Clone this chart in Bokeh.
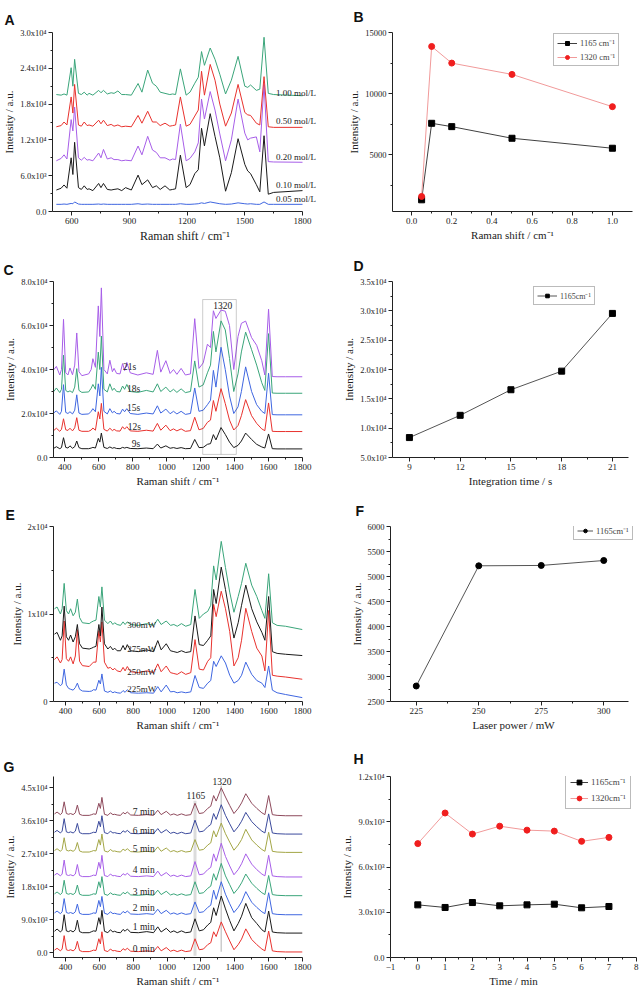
from bokeh.plotting import figure
from bokeh.layouts import column, row
from bokeh.models import (FixedTicker, Legend, LegendItem, Label, BoxAnnotation,
                          PrintfTickFormatter)
from bokeh.embed import file_html
from bokeh.resources import INLINE

SERIF = "Liberation Serif"
SANS = "Liberation Sans"

# ======================= DATA =======================
# Panel A: spectra vs concentration (intensity in thousands)
a_shift = [520, 545, 560, 575, 597, 606, 615, 635, 650, 665, 680,
           690, 710, 740, 752, 765, 785, 805, 820, 840, 860, 880,
           910, 945, 965, 995, 1020, 1040, 1060, 1085, 1110, 1125, 1140,
           1165, 1195, 1215, 1240, 1258, 1275, 1290, 1320, 1345, 1370, 1400,
           1430, 1465, 1500, 1515, 1530, 1560, 1578, 1600, 1622, 1650, 1800]
a_005 = [1.2, 1.2, 1.25, 1.2, 1.35, 1.3, 1.6, 1.25, 1.2, 1.2, 1.2,
         1.2, 1.2, 1.25, 1.2, 1.25, 1.2, 1.2, 1.2, 1.2, 1.2, 1.2,
         1.2, 1.3, 1.2, 1.25, 1.2, 1.2, 1.2, 1.2, 1.2, 1.2, 1.2,
         1.3, 1.2, 1.2, 1.25, 1.3, 1.45, 1.35, 1.6, 1.45, 1.3, 1.2,
         1.25, 1.45, 1.3, 1.25, 1.3, 1.2, 1.2, 1.6, 1.2, 1.2, 1.2]
a_010 = [3.6, 3.9, 4.45, 3.9, 9.0, 6.2, 11.6, 4.0, 3.7, 4.3, 3.7,
         3.8, 3.5, 4.7, 4.0, 4.7, 3.7, 3.6, 3.7, 3.8, 3.5, 4.0,
         3.6, 6.1, 4.5, 5.3, 4.0, 4.3, 3.7, 4.3, 3.6, 3.7, 3.8,
         9.45, 4.0, 4.5, 6.35, 7.0, 13.95, 11.0, 16.4, 12.6, 9.0, 3.4,
         6.5, 12.2, 7.9, 6.8, 6.35, 4.5, 3.3, 12.7, 2.9, 3.2, 3.5]
a_020 = [8.5, 8.9, 9.5, 8.8, 15.4, 13.5, 17.5, 9.0, 8.6, 9.07, 8.6,
         8.7, 8.5, 9.8, 9.0, 10.4, 8.8, 9.0, 8.7, 8.7, 8.5, 8.6,
         8.5, 10.97, 9.5, 12.6, 10.3, 9.9, 9.0, 9.0, 8.6, 8.8, 8.7,
         14.66, 8.5, 8.9, 10.0, 11.5, 18.84, 15.5, 20.1, 17.0, 13.0, 8.5,
         12.0, 18.84, 13.14, 12.0, 12.3, 12.5, 10.0, 21.3, 8.36, 8.3, 8.25]
a_050 = [14.2, 14.4, 15.0, 14.5, 19.2, 16.5, 21.3, 14.5, 14.3, 15.0, 14.4,
         14.5, 14.3, 15.3, 14.7, 15.3, 14.4, 14.6, 14.3, 14.5, 14.2, 14.3,
         14.2, 16.1, 14.8, 16.8, 15.0, 15.0, 14.4, 14.8, 14.3, 14.4, 14.5,
         19.2, 14.3, 14.6, 16.0, 17.0, 23.5, 19.5, 24.65, 22.0, 18.0, 14.3,
         16.5, 21.3, 16.6, 16.2, 16.1, 14.8, 14.5, 22.6, 14.2, 14.1, 14.1]
a_100 = [19.6, 19.5, 19.7, 19.5, 24.1, 21.0, 25.5, 19.8, 19.6, 20.0, 19.5,
         19.8, 19.5, 20.3, 19.9, 20.3, 19.7, 19.9, 19.8, 20.2, 19.6, 19.6,
         19.5, 21.45, 20.0, 23.7, 21.5, 21.0, 20.0, 19.8, 19.6, 19.7, 19.6,
         23.9, 19.5, 20.0, 21.5, 22.5, 26.8, 24.5, 27.4, 25.5, 23.0, 19.7,
         22.0, 26.0, 21.0, 20.8, 21.2, 20.3, 20.5, 29.2, 19.8, 19.6, 19.4]
a_names = ["1.00 mol/L", "0.50 mol/L", "0.20 mol/L", "0.10 mol/L", "0.05 mol/L"]

# Panel B: peak intensity vs concentration
b_conc = [0.05, 0.1, 0.2, 0.5, 1.0]
b_1165 = [1333, 7582, 7310, 6360, 5545]
b_1320 = [1605, 13859, 12500, 11577, 8941]

# Common Raman shift grid for panels C, E, G
shift = [335, 350, 370, 380, 392, 405, 418, 430, 445, 458, 470,
         483, 500, 540, 555, 565, 580, 597, 606, 615, 630, 650,
         665, 680, 690, 705, 725, 740, 752, 765, 785, 830, 880,
         920, 945, 965, 995, 1020, 1040, 1060, 1085, 1110, 1140, 1165,
         1190, 1215, 1240, 1258, 1275, 1290, 1320, 1345, 1370, 1395, 1420,
         1440, 1465, 1500, 1530, 1560, 1578, 1600, 1622, 1650, 1700, 1800]

# Panel C: spectra vs integration time (thousands)
c_9s = [4.2, 4.9, 4.0, 4.5, 9.0, 4.6, 4.3, 5.3, 4.2, 4.9, 7.5,
        4.5, 4.0, 4.0, 4.3, 4.6, 4.3, 8.7, 7.0, 11.1, 4.6, 4.1,
        4.8, 4.2, 4.5, 4.1, 4.0, 4.6, 4.3, 4.6, 4.1, 4.0, 4.3,
        4.0, 6.1, 4.3, 5.3, 4.2, 4.5, 4.1, 4.5, 4.0, 4.1, 8.2,
        4.5, 4.6, 6.0, 6.3, 10.4, 8.0, 13.6, 10.5, 7.0, 4.5, 5.5,
        7.5, 11.1, 8.2, 6.0, 4.8, 4.3, 10.7, 4.0, 3.9, 3.9, 3.9]
c_12s = [12.3, 13.3, 11.9, 12.8, 17.6, 12.6, 12.3, 13.3, 12.1, 13.5, 18.1,
         12.4, 11.9, 11.9, 12.5, 13.4, 12.4, 20.8, 17.5, 24.6, 12.8, 12.0,
         13.3, 12.2, 12.8, 12.1, 12.0, 14.0, 12.9, 14.0, 12.1, 11.9, 12.4,
         12.0, 15.5, 12.4, 14.7, 12.2, 13.0, 12.1, 13.0, 11.9, 12.2, 18.3,
         12.6, 13.2, 16.0, 17.0, 25.9, 21.0, 31.3, 24.5, 17.0, 12.5, 14.5,
         19.0, 26.3, 19.0, 15.5, 13.0, 12.2, 24.8, 11.9, 11.8, 11.8, 11.8]
c_15s = [20.3, 21.2, 19.6, 21.0, 33.1, 20.5, 20.0, 20.8, 19.8, 21.5, 28.5,
         20.2, 19.6, 19.8, 21.0, 22.2, 20.8, 33.5, 28.0, 41.0, 21.0, 19.8,
         22.2, 20.3, 21.0, 20.0, 19.8, 22.0, 20.8, 22.2, 20.0, 19.6, 20.2,
         19.8, 23.5, 20.2, 22.0, 19.9, 21.0, 19.8, 21.0, 19.6, 20.0, 31.6,
         21.0, 21.5, 24.0, 26.0, 39.6, 32.0, 50.1, 40.0, 28.0, 20.0, 23.0,
         30.0, 41.2, 30.0, 24.0, 21.0, 20.0, 38.3, 19.5, 19.4, 19.4, 19.4]
c_18s = [30.0, 31.6, 29.5, 31.0, 46.5, 30.5, 29.8, 30.3, 29.5, 32.0, 40.4,
         30.5, 29.6, 29.8, 31.5, 33.2, 31.0, 47.9, 40.0, 55.2, 31.0, 29.8,
         33.5, 30.5, 31.5, 30.0, 29.8, 32.5, 31.0, 33.2, 30.0, 29.6, 30.5,
         29.8, 33.5, 30.0, 32.0, 29.8, 31.0, 29.6, 31.2, 29.5, 30.0, 43.9,
         32.0, 33.0, 38.5, 42.0, 57.3, 48.0, 62.1, 58.0, 45.0, 30.0, 38.0,
         48.0, 57.0, 49.0, 42.0, 34.0, 30.5, 56.3, 29.3, 29.2, 29.2, 29.2]
c_21s = [39.9, 41.4, 37.5, 40.0, 62.8, 38.5, 37.5, 40.7, 37.6, 42.0, 56.6,
         39.0, 37.2, 38.0, 40.0, 44.9, 41.0, 68.9, 55.0, 77.1, 40.0, 38.0,
         44.2, 39.0, 40.5, 38.2, 38.0, 42.7, 39.5, 43.2, 38.5, 37.5, 38.5,
         37.8, 48.7, 38.8, 44.0, 38.2, 40.0, 37.8, 40.5, 37.5, 38.0, 63.1,
         40.5, 43.0, 51.5, 50.0, 66.7, 63.2, 67.0, 66.5, 60.0, 40.0, 55.0,
         61.0, 62.0, 54.5, 51.0, 44.0, 37.5, 67.4, 36.8, 36.7, 36.7, 36.7]
c_names = ["21s", "18s", "15s", "12s", "9s"]
c_marked_peak = [1320]

# Panel D: 1165 cm-1 intensity vs integration time
d_time = [9, 12, 15, 18, 21]
d_1165 = [8396, 12190, 16550, 19720, 29560]

# Panel E: spectra vs laser power (thousands)
e_225 = [2.1, 2.2, 1.8, 2.0, 3.7, 1.9, 1.5, 1.4, 1.3, 1.6, 2.1,
         1.4, 1.2, 1.15, 1.2, 1.35, 1.3, 2.43, 2.0, 3.15, 1.2, 1.05,
         1.2, 1.0, 1.1, 1.0, 0.95, 1.25, 1.05, 1.35, 1.0, 0.95, 1.0,
         0.95, 1.7, 1.1, 1.88, 1.1, 1.15, 1.0, 1.1, 1.0, 1.1, 2.97,
         1.6, 1.5, 2.1, 2.4, 4.6, 4.0, 5.22, 4.4, 3.0, 2.1, 2.4,
         3.0, 4.5, 3.1, 2.4, 2.1, 1.6, 4.06, 1.3, 1.0, 0.8, 0.44]
e_250 = [4.8, 5.1, 4.4, 4.8, 9.2, 4.9, 4.6, 5.1, 4.3, 5.2, 8.2,
         4.6, 4.1, 4.0, 4.3, 4.5, 4.5, 8.1, 6.8, 9.1, 4.5, 3.8,
         3.9, 3.6, 3.8, 3.5, 3.4, 3.9, 3.5, 4.0, 3.4, 3.3, 3.5,
         3.3, 4.3, 3.4, 4.06, 3.3, 3.2, 3.1, 3.4, 3.1, 3.3, 7.07,
         3.7, 3.6, 4.6, 5.0, 11.1, 9.7, 12.6, 10.6, 8.0, 4.06, 5.0,
         7.0, 10.65, 8.0, 6.1, 5.2, 3.5, 10.4, 3.0, 2.9, 2.8, 2.54]
e_275 = [7.7, 7.9, 7.0, 7.5, 10.9, 7.4, 7.0, 7.6, 6.8, 7.4, 8.8,
         6.6, 6.1, 6.0, 6.1, 6.2, 6.3, 8.8, 7.5, 10.8, 6.6, 6.0,
         6.3, 5.9, 6.1, 5.8, 5.8, 6.4, 5.9, 6.5, 5.8, 5.7, 5.9,
         5.7, 6.96, 5.9, 6.6, 5.8, 5.7, 5.6, 5.8, 5.6, 5.7, 9.78,
         6.5, 6.4, 7.0, 7.5, 12.8, 11.2, 15.36, 12.8, 10.0, 7.25, 9.0,
         11.0, 13.3, 10.6, 9.1, 7.9, 7.0, 12.0, 5.7, 5.5, 5.4, 5.25]
e_300 = [10.6, 10.8, 10.0, 10.6, 13.5, 10.4, 10.0, 10.6, 9.8, 10.2, 11.7,
         9.6, 9.0, 8.9, 9.1, 9.2, 9.3, 12.0, 10.8, 13.1, 9.3, 8.9,
         9.2, 8.8, 9.0, 8.8, 8.7, 9.1, 8.8, 9.1, 8.8, 8.7, 8.9,
         8.7, 9.4, 8.8, 9.2, 8.7, 8.8, 8.6, 8.9, 8.6, 8.8, 12.8,
         9.5, 10.0, 10.3, 11.0, 15.5, 13.9, 18.3, 15.3, 12.5, 10.2, 12.0,
         13.5, 15.8, 13.3, 12.0, 10.4, 9.5, 14.6, 9.0, 8.7, 8.6, 8.22]
e_names = ["300mW", "275mW", "250mW", "225mW"]

# Panel F: 1165 cm-1 intensity vs laser power
f_power = [225, 250, 275, 300]
f_1165 = [2810, 5214, 5221, 5320]

# Panel G: spectra vs time (thousands)
g_0 = [0.75, 1.25, 0.55, 1.05, 4.7, 0.85, 0.65, 0.85, 0.55, 1.05, 3.15,
       0.65, 0.35, 0.35, 0.55, 0.75, 0.65, 3.85, 2.45, 5.75, 0.65, 0.35,
       1.05, 0.55, 0.65, 0.45, 0.35, 1.15, 0.75, 1.25, 0.45, 0.35, 0.55,
       0.35, 1.75, 0.55, 1.45, 0.45, 0.75, 0.35, 0.75, 0.35, 0.55, 3.85,
       0.85, 1.05, 2.25, 2.75, 5.75, 4.45, 8.45, 5.75, 3.25, 0.85, 2.25,
       3.75, 6.55, 3.65, 2.25, 1.05, 0.55, 5.95, 0.55, 0.35, 0.25, 0.25]
g_1 = [5.9, 6.5, 5.7, 6.2, 10.4, 6.0, 5.8, 6.1, 5.7, 6.3, 8.9,
       5.8, 5.5, 5.5, 5.8, 6.0, 5.9, 9.6, 7.8, 11.6, 5.9, 5.5,
       6.3, 5.7, 5.9, 5.6, 5.5, 6.4, 5.9, 6.5, 5.6, 5.5, 5.8,
       5.5, 7.1, 5.7, 6.7, 5.6, 6.0, 5.5, 6.0, 5.5, 5.7, 9.3,
       6.0, 6.3, 7.6, 8.3, 12.3, 10.2, 15.5, 12.0, 8.8, 6.0, 8.0,
       10.0, 13.5, 9.6, 8.0, 6.3, 5.7, 11.4, 5.7, 5.5, 5.4, 5.4]
g_2 = [10.9, 11.4, 10.7, 11.2, 14.8, 11.0, 10.8, 11.0, 10.7, 11.2, 13.3,
       10.8, 10.5, 10.5, 10.7, 10.9, 10.8, 14.3, 12.6, 15.4, 10.8, 10.5,
       11.2, 10.7, 10.8, 10.6, 10.5, 11.3, 10.9, 11.4, 10.6, 10.5, 10.7,
       10.5, 11.9, 10.7, 11.6, 10.6, 10.9, 10.5, 10.9, 10.5, 10.7, 13.9,
       11.0, 11.2, 12.4, 13.0, 17.1, 14.6, 19.4, 16.0, 13.4, 11.0, 12.4,
       13.9, 16.7, 13.8, 12.4, 11.2, 10.7, 16.4, 10.7, 10.5, 10.4, 10.4]
g_3 = [16.1, 16.6, 15.9, 16.4, 19.8, 16.2, 16.0, 16.2, 15.9, 16.4, 18.5,
       16.0, 15.7, 15.7, 15.9, 16.1, 16.0, 19.4, 17.8, 20.8, 16.0, 15.7,
       16.4, 15.9, 16.0, 15.8, 15.7, 16.5, 16.1, 16.6, 15.8, 15.7, 15.9,
       15.7, 17.1, 15.9, 16.8, 15.8, 16.1, 15.7, 16.1, 15.7, 15.9, 19.4,
       16.2, 16.4, 17.6, 18.2, 21.6, 19.8, 24.4, 21.0, 18.6, 16.2, 17.6,
       19.1, 21.5, 19.0, 17.6, 16.4, 15.9, 21.1, 15.9, 15.7, 15.6, 15.6]
g_4 = [21.2, 21.7, 21.0, 21.5, 25.3, 21.3, 21.1, 21.3, 21.0, 21.5, 24.1,
       21.1, 20.8, 20.8, 21.0, 21.2, 21.1, 24.7, 23.0, 26.6, 21.1, 20.8,
       21.5, 21.0, 21.1, 20.9, 20.8, 21.6, 21.2, 21.7, 20.9, 20.8, 21.0,
       20.8, 22.3, 21.0, 21.9, 20.9, 21.2, 20.8, 21.2, 20.8, 21.0, 24.9,
       21.3, 21.5, 22.7, 23.3, 27.0, 25.0, 29.9, 26.3, 23.7, 21.3, 22.7,
       24.3, 27.0, 24.2, 22.7, 21.5, 21.0, 26.6, 21.0, 20.8, 20.7, 20.7]
g_5 = [27.9, 28.4, 27.7, 28.2, 31.4, 28.0, 27.8, 28.0, 27.7, 28.2, 30.1,
       27.8, 27.5, 27.5, 27.7, 27.9, 27.8, 30.9, 29.4, 32.4, 27.8, 27.5,
       28.2, 27.7, 27.8, 27.6, 27.5, 28.3, 27.9, 28.4, 27.6, 27.5, 27.7,
       27.5, 28.9, 27.7, 28.6, 27.6, 27.9, 27.5, 27.9, 27.5, 27.7, 30.9,
       28.0, 28.2, 29.4, 30.0, 33.3, 31.6, 35.4, 32.5, 30.2, 28.0, 29.4,
       30.9, 33.7, 30.8, 29.4, 28.2, 27.7, 32.9, 27.7, 27.5, 27.4, 27.4]
g_6 = [32.9, 33.4, 32.7, 33.2, 36.6, 33.0, 32.8, 33.0, 32.7, 33.2, 35.3,
       32.8, 32.5, 32.5, 32.7, 32.9, 32.8, 35.9, 34.4, 37.4, 32.8, 32.5,
       33.2, 32.7, 32.8, 32.6, 32.5, 33.3, 32.9, 33.4, 32.6, 32.5, 32.7,
       32.5, 33.9, 32.7, 33.6, 32.6, 32.9, 32.5, 32.9, 32.5, 32.7, 36.2,
       33.0, 33.2, 34.4, 35.0, 38.0, 36.4, 40.4, 37.5, 35.2, 33.0, 34.4,
       35.9, 38.3, 35.8, 34.4, 33.2, 32.7, 37.9, 32.7, 32.5, 32.4, 32.4]
g_7 = [37.9, 38.4, 37.7, 38.2, 41.2, 38.0, 37.8, 38.0, 37.7, 38.2, 40.3,
       37.8, 37.5, 37.5, 37.7, 37.9, 37.8, 40.8, 39.4, 42.4, 37.8, 37.5,
       38.2, 37.7, 37.8, 37.6, 37.5, 38.3, 37.9, 38.4, 37.6, 37.5, 37.7,
       37.5, 38.9, 37.7, 38.6, 37.6, 37.9, 37.5, 37.9, 37.5, 37.7, 40.8,
       38.0, 38.2, 39.4, 40.0, 42.9, 41.4, 45.0, 42.5, 40.2, 38.0, 39.4,
       40.9, 43.4, 40.8, 39.4, 38.2, 37.7, 42.9, 37.7, 37.5, 37.4, 37.4]
g_names = ["0 min", "1 min", "2 min", "3 min", "4 min", "5 min", "6 min", "7 min"]
g_marked_peaks = [1165, 1320]

# Panel H: intensity vs time
h_time = [0, 1, 2, 3, 4, 5, 6, 7]
h_1165 = [3491, 3317, 3644, 3426, 3491, 3535, 3295, 3382]
h_1320 = [7550, 9579, 8183, 8706, 8444, 8379, 7702, 7964]

# ======================= STYLE =======================
BLACK = "#1a1a1a"
RED = "#e8322e"
BLUE = "#3f66e0"
GREEN = "#3aa57a"
PURPLE = "#a75ee8"
OLIVE = "#a3a646"
NAVY = "#3b4a9c"
MAROON = "#8e4a5c"
AXC = "#222222"


def make_fig(w, h, xr, yr, bl, br, bt, bb):
    p = figure(width=w, height=h, x_range=xr, y_range=yr, output_backend="svg",
               toolbar_location=None, min_border_left=bl, min_border_right=br,
               min_border_top=bt, min_border_bottom=bb)
    p.grid.visible = False
    p.outline_line_color = None
    p.background_fill_color = "white"
    p.border_fill_color = "white"
    return p


def style_axes(p, xt, xmin, yt, ymin, ylabels, xlabel, ylabel,
               xfmt=None, xlab_size="11px", ylab_size="11px"):
    p.xaxis.ticker = FixedTicker(ticks=xt, minor_ticks=xmin)
    p.yaxis.ticker = FixedTicker(ticks=yt, minor_ticks=ymin)
    if ylabels is not None:
        p.yaxis.major_label_overrides = dict(zip(yt, ylabels))
    if xfmt is not None:
        p.xaxis.formatter = xfmt
    p.xaxis.axis_label = xlabel
    p.yaxis.axis_label = ylabel
    for ax in list(p.xaxis) + list(p.yaxis):
        ax.axis_line_color = AXC
        ax.axis_line_width = 1
        ax.major_tick_line_color = AXC
        ax.minor_tick_line_color = AXC
        ax.major_tick_in = 0
        ax.major_tick_out = 4
        ax.minor_tick_in = 0
        ax.minor_tick_out = 2
        ax.major_label_text_font = SERIF
        ax.major_label_text_color = AXC
        ax.major_label_standoff = 2
        ax.axis_label_text_font = SERIF
        ax.axis_label_text_font_style = "normal"
        ax.axis_label_text_color = AXC
        ax.axis_label_standoff = 2
    p.xaxis.major_label_text_font_size = "9px"
    p.yaxis.major_label_text_font_size = "8.5px"
    p.xaxis.axis_label_text_font_size = xlab_size
    p.yaxis.axis_label_text_font_size = ylab_size


def letter(p, text, offset, standoff):
    p.title.text = text
    p.title.align = "left"
    p.title.vertical_align = "top"
    p.title.offset = offset
    p.title.standoff = standoff
    p.title.text_font = SANS
    p.title.text_font_style = "bold"
    p.title.text_font_size = "14px"
    p.title.text_color = "#111111"


def tlabel(p, x, y, text, size="9px", align="left"):
    p.add_layout(Label(x=x, y=y, text=text, text_font=SERIF, text_font_size=size,
                       text_align=align, text_baseline="middle", text_color=AXC))


def legend(p, items, loc, size="8.5px", lh=9, spacing=2, padding=3, gw=20):
    lg = Legend(items=items, location=loc, label_text_font=SERIF,
                label_text_font_size=size, label_height=lh, glyph_height=lh,
                glyph_width=gw, spacing=spacing, padding=padding, margin=0,
                label_standoff=3, border_line_color="#777777",
                border_line_width=1, background_fill_alpha=1)
    p.add_layout(lg)


SUP3 = "x10\u00b3"
SUP4 = "x10\u2074"
CM = "cm\u207b\u00b9"

# ---------------- Panel A ----------------
pA = make_fig(320, 248, (500, 1878), (0, 30), 51, 3, 27, 37)
style_axes(pA, [600, 900, 1200, 1500, 1800], [750, 1050, 1350, 1650],
           [0, 6, 12, 18, 24, 30], [3, 9, 15, 21, 27],
           ["0.0", "6.0" + SUP3, "1.2" + SUP4, "1.8" + SUP4, "2.4" + SUP4, "3.0" + SUP4],
           "Raman shift / " + CM, "Intensity / a.u.", xlab_size="12px")
pA.xaxis.bounds = (500, 1800)
for ys, col in [(a_005, BLUE), (a_010, BLACK), (a_020, PURPLE), (a_050, RED), (a_100, GREEN)]:
    pA.line(a_shift, ys, color=col, line_width=1)
for name, y in zip(a_names, [19.9, 15.2, 9.2, 4.45, 2.17]):
    tlabel(pA, 1662, y, name, size="9px")
letter(pA, "A", -48, 6)

# ---------------- Panel B ----------------
pB = make_fig(320, 248, (-0.095, 1.1), (377, 15000), 72, 8, 32, 37)
style_axes(pB, [0, 0.2, 0.4, 0.6, 0.8, 1.0], [0.1, 0.3, 0.5, 0.7, 0.9],
           [5000, 10000, 15000], [2500, 7500, 12500], None,
           "Raman shift / " + CM, "Intensity / a.u.", xfmt=PrintfTickFormatter(format="%.1f"))
lb1 = pB.line(b_conc, b_1165, color="#404040", line_width=1)
sb1 = pB.scatter(b_conc, b_1165, marker="square", size=6, color="#000000")
lb2 = pB.line(b_conc, b_1320, color="#f19a9a", line_width=1)
sb2 = pB.scatter(b_conc, b_1320, marker="circle", size=6, color="#f01e1e")
legend(pB, [LegendItem(label="1165 " + CM, renderers=[lb1, sb1]),
            LegendItem(label="1320 " + CM, renderers=[lb2, sb2])],
       (161, 145), size="8.5px", lh=10, spacing=3, padding=3)
letter(pB, "B", -39, 11)

# ---------------- Panel C ----------------
pC = make_fig(320, 242, (333, 1800), (0, 80), 53, 18, 25, 33)
style_axes(pC, list(range(400, 1801, 200)), list(range(500, 1800, 200)),
           [0, 20, 40, 60, 80], [10, 30, 50, 70],
           ["0.0", "2.0" + SUP4, "4.0" + SUP4, "6.0" + SUP4, "8.0" + SUP4],
           "Raman shift / " + CM, "Intensity / a.u.")
pC.segment(x0=c_marked_peak, y0=[1.4], x1=c_marked_peak, y1=[69.5],
           color="#c8c8c8", line_width=1)
pC.add_layout(BoxAnnotation(left=1212, right=1410, bottom=1.4, top=71.8,
                            fill_alpha=0, line_color="#555555", line_width=1))
for ys, col in [(c_9s, BLACK), (c_12s, RED), (c_15s, BLUE), (c_18s, GREEN), (c_21s, PURPLE)]:
    pC.line(shift, ys, color=col, line_width=1)
for name, x, y in zip(c_names, [781, 805, 805, 810, 819], [41.0, 31.3, 22.7, 14.0, 6.1]):
    tlabel(pC, x, y, name, size="9.5px", align="center")
tlabel(pC, 1330, 68.9, "1320", size="9.5px", align="center")
letter(pC, "C", -50, 4)

# ---------------- Panel D ----------------
pD = make_fig(320, 242, (8, 21.95), (5000, 35000), 72, 12, 33, 33)
style_axes(pD, [9, 12, 15, 18, 21], [10.5, 13.5, 16.5, 19.5],
           [5000, 10000, 15000, 20000, 25000, 30000, 35000],
           [7500, 12500, 17500, 22500, 27500, 32500],
           ["5.0" + SUP3, "1.0" + SUP4, "1.5" + SUP4, "2.0" + SUP4, "2.5" + SUP4,
            "3.0" + SUP4, "3.5" + SUP4],
           "Integration time / s", "Intensity / a.u.")
ld = pD.line(d_time, d_1165, color="#555555", line_width=1)
sd = pD.scatter(d_time, d_1165, marker="square", size=6, color="#000000")
legend(pD, [LegendItem(label="1165" + CM, renderers=[ld, sd])], (141, 152),
       size="8px", lh=9, padding=3)
letter(pD, "D", -39, 12)

# ---------------- Panel E ----------------
pE = make_fig(320, 250, (329, 1800), (0, 20), 53, 18, 27, 39)
style_axes(pE, list(range(400, 1801, 200)), list(range(500, 1800, 200)),
           [0, 10, 20], [5, 15], ["0", "1" + SUP4, "2" + SUP4],
           "Raman shift / " + CM, "Intensity / a.u.")
for ys, col in [(e_225, BLUE), (e_250, RED), (e_275, BLACK), (e_300, GREEN)]:
    pE.line(shift, ys, color=col, line_width=1)
for name, y in zip(e_names, [8.7, 6.05, 3.33, 1.41]):
    tlabel(pE, 851, y, name, size="9px", align="center")
letter(pE, "E", -48, 3)

# ---------------- Panel F ----------------
pF = make_fig(320, 250, (214.7, 313.1), (2500, 6000), 70, 4, 36, 38)
style_axes(pF, [225, 250, 275, 300], [237.5, 262.5, 287.5],
           list(range(2500, 6001, 500)), list(range(2750, 6000, 500)), None,
           "Laser power / mW", "Intensity / a.u.")
pF.xaxis.bounds = (214.7, 310)
lf = pF.line(f_power, f_1165, color="#555555", line_width=1)
sf = pF.scatter(f_power, f_1165, marker="circle", size=6, color="#000000")
legend(pF, [LegendItem(label="1165" + CM, renderers=[lf, sf])], (183, 161),
       size="8.5px", lh=9, padding=3, gw=16)
letter(pF, "F", -35, 12)

# ---------------- Panel G ----------------
pG = make_fig(320, 252, (329, 1800), (-1.26, 48.1), 53, 18, 21, 35)
style_axes(pG, list(range(400, 1801, 200)), list(range(500, 1800, 200)),
           [0, 9, 18, 27, 36, 45], [4.5, 13.5, 22.5, 31.5, 40.5],
           ["0.0", "9.0" + SUP3, "1.8" + SUP4, "2.7" + SUP4, "3.6" + SUP4, "4.5" + SUP4],
           "Raman shift / " + CM, "Intensity / a.u.")
pG.segment(x0=g_marked_peaks, y0=[-0.8, 0.3], x1=g_marked_peaks, y1=[41.5, 45.6],
           color=["#dcdcdc", "#cccccc"], line_width=[3, 1.5])
g_series = [g_0, g_1, g_2, g_3, g_4, g_5, g_6, g_7]
g_colors = [RED, BLACK, BLUE, GREEN, PURPLE, OLIVE, NAVY, MAROON]
for ys, col in zip(g_series, g_colors):
    pG.line(shift, ys, color=col, line_width=1)
for name, y in zip(g_names, [1.09, 6.97, 12.26, 16.7, 22.5, 28.38, 33.25, 38.45]):
    tlabel(pG, 862, y, name, size="9.5px", align="center")
tlabel(pG, 1170, 42.9, "1165", size="9.5px", align="center")
tlabel(pG, 1325, 46.7, "1320", size="9.5px", align="center")
letter(pG, "G", -50, 0)

# ---------------- Panel H ----------------
pH = make_fig(320, 252, (-1, 8.01), (0, 12000), 70, 4, 36, 33)
style_axes(pH, list(range(-1, 9)), [v + 0.5 for v in range(-1, 8)],
           [0, 3000, 6000, 9000, 12000], [1500, 4500, 7500, 10500],
           ["0.0", "3.0" + SUP3, "6.0" + SUP3, "9.0" + SUP3, "1.2" + SUP4],
           "Time / min", "Intensity / a.u.")
lh1 = pH.line(h_time, h_1165, color="#404040", line_width=1)
sh1 = pH.scatter(h_time, h_1165, marker="square", size=6, color="#000000")
lh2 = pH.line(h_time, h_1320, color="#f19a9a", line_width=1)
sh2 = pH.scatter(h_time, h_1320, marker="circle", size=6, color="#f01e1e")
legend(pH, [LegendItem(label="1165" + CM, renderers=[lh1, sh1]),
            LegendItem(label="1320" + CM, renderers=[lh2, sh2])],
       (175, 148), size="9px", lh=12, spacing=3, padding=4, gw=18)
letter(pH, "H", -37, 15)

layout = column(row(pA, pB), row(pC, pD), row(pE, pF), row(pG, pH))
open("out.html", "w").write(file_html(layout, INLINE))
